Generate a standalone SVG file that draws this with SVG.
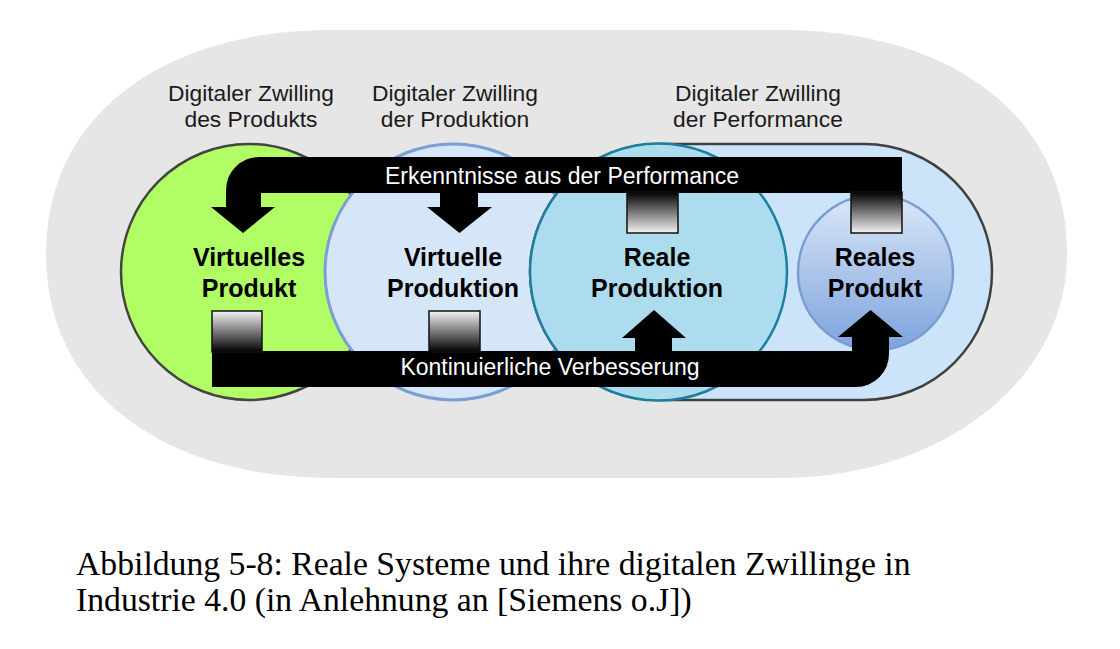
<svg xmlns="http://www.w3.org/2000/svg" width="1120" height="649" viewBox="0 0 1120 649">
  <defs>
    <linearGradient id="gDown" x1="0" y1="0" x2="0" y2="1">
      <stop offset="0" stop-color="#000"/>
      <stop offset="1" stop-color="#f4f4f4"/>
    </linearGradient>
    <linearGradient id="gUp" x1="0" y1="0" x2="0" y2="1">
      <stop offset="0" stop-color="#f4f4f4"/>
      <stop offset="1" stop-color="#000"/>
    </linearGradient>
    <linearGradient id="gReal" x1="0" y1="0" x2="0" y2="1">
      <stop offset="0" stop-color="#dbe7f7"/>
      <stop offset="1" stop-color="#7da3de"/>
    </linearGradient>
  </defs>
  <style>
    .lbl { font-family: "Liberation Sans", Arial, sans-serif; font-size: 22.8px; fill: #1a1a1a; text-anchor: middle; }
    .node { font-family: "Liberation Sans", Arial, sans-serif; font-size: 25px; font-weight: bold; fill: #000; text-anchor: middle; }
    .band { font-family: "Liberation Sans", Arial, sans-serif; font-size: 23px; fill: #fff; text-anchor: middle; }
    .cap { font-family: "Liberation Serif", "Times New Roman", serif; font-size: 33.7px; fill: #000; }
    .box { stroke: #111; stroke-width: 1.5; }
  </style>
  <rect width="1120" height="649" fill="#fff"/>

  <g id="background">
    <path d="M 330 30 H 783 C 943 30 1067 110 1067 254 C 1067 380 943 478 780 478 H 333 C 160 478 46 390 46 254 C 46 110 170 30 330 30 Z" fill="#e6e6e6"/>
    <text class="lbl" x="251" y="101">Digitaler Zwilling</text>
    <text class="lbl" x="251" y="127">des Produkts</text>
    <text class="lbl" x="455" y="101">Digitaler Zwilling</text>
    <text class="lbl" x="455" y="127">der Produktion</text>
    <text class="lbl" x="758" y="101">Digitaler Zwilling</text>
    <text class="lbl" x="758" y="127">der Performance</text>
  </g>

  <g id="virtuelles-produkt">
    <circle cx="249" cy="272" r="128" fill="#b0fd66" stroke="#444" stroke-width="2.5"/>
  </g>
  <g id="virtuelle-produktion">
    <circle cx="453" cy="272" r="128" fill="#d6e6f9" stroke="#7b9fd4" stroke-width="3"/>
  </g>
  <g id="performance">
    <rect x="530" y="144" width="462" height="256" rx="128" ry="128" fill="#cce4fa" stroke="#404040" stroke-width="2.5"/>
  </g>
  <g id="reale-produktion">
    <circle cx="658.5" cy="272" r="128.5" fill="#acdcee" stroke="#1f7ea0" stroke-width="2.5"/>
  </g>
  <g id="reales-produkt">
    <circle cx="875.5" cy="272.5" r="77.5" fill="url(#gReal)" stroke="#7a9cd0" stroke-width="2.5"/>
  </g>

  <g id="connectors">
    <path d="M 902 157 H 259 A 33 33 0 0 0 226 190 V 207 H 211 L 243 233 L 275 207 H 261 V 193 H 902 Z" fill="#000"/>
    <path d="M 440 190 V 207 H 427 L 459.5 233 L 492 207 H 478 V 190 Z" fill="#000"/>
    <rect class="box" x="627" y="192" width="51" height="41" fill="url(#gDown)"/>
    <rect class="box" x="851" y="192" width="51" height="41" fill="url(#gDown)"/>
    <text class="band" x="562" y="184" font-size="23.4">Erkenntnisse aus der Performance</text>

    <path d="M 212 351 V 387 H 856 A 33 33 0 0 0 889 354 V 337 H 903 L 870.5 310 L 838 337 H 852 V 351 Z" fill="#000"/>
    <path d="M 635 354 V 338 H 622 L 654 310 L 686 338 H 672 V 354 Z" fill="#000"/>
    <rect class="box" x="212" y="311" width="50" height="41" fill="url(#gUp)"/>
    <rect class="box" x="429" y="311" width="51" height="41" fill="url(#gUp)"/>
    <text class="band" x="550" y="375">Kontinuierliche Verbesserung</text>
  </g>

  <g id="node-labels">
    <text class="node" x="249" y="266">Virtuelles</text>
    <text class="node" x="249" y="297">Produkt</text>
    <text class="node" x="453" y="266">Virtuelle</text>
    <text class="node" x="453" y="297">Produktion</text>
    <text class="node" x="657" y="266">Reale</text>
    <text class="node" x="657" y="297">Produktion</text>
    <text class="node" x="875" y="266">Reales</text>
    <text class="node" x="875" y="297">Produkt</text>
  </g>

  <g id="caption">
    <text class="cap" x="76" y="575">Abbildung 5-8: Reale Systeme und ihre digitalen Zwillinge in</text>
    <text class="cap" x="76" y="611">Industrie 4.0 (in Anlehnung an [Siemens o.J])</text>
  </g>
</svg>
